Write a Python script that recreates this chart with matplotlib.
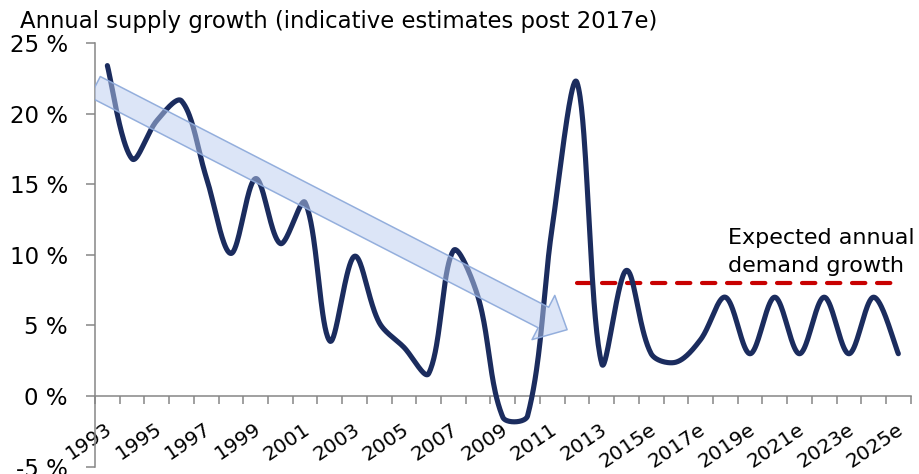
import numpy as np
import matplotlib
matplotlib.use("Agg")
import matplotlib.pyplot as plt
from matplotlib.patches import FancyArrowPatch
import matplotlib.transforms as mtransforms

# ---- data -------------------------------------------------------------
years = [str(y) for y in range(1993, 2015)] + [f"{y}e" for y in range(2015, 2026)]
supply_growth = [23.4, 16.8, 19.5, 20.9, 15.5, 10.1, 15.4, 10.8, 13.7, 3.9,
                 9.9, 5.2, 3.45, 1.6, 10.3, 7.0, -1.5, -1.4, 12.0, 22.2,
                 2.3, 8.9, 3.0, 2.4, 4.0, 7.0, 3.0, 7.0, 3.0, 7.0, 3.0, 7.0, 3.0]
demand_years = years[years.index("2012"):]
demand_growth = [8.0] * len(demand_years)

y_ticks = [-5, 0, 5, 10, 15, 20, 25]
y_tick_labels = [f"{v} %" for v in y_ticks]

# trend arrow, in (category index, %) coordinates
trend_start = (-0.5, 21.9)
trend_end = (18.6, 4.7)

title = "Annual supply growth (indicative estimates post 2017e)"
demand_note = ["Expected annual", "demand growth"]

NAVY = "#1b2c5e"
RED = "#c80000"
GREY = "#868686"

# ---- figure -----------------------------------------------------------
W, H, DPI = 919, 474, 100
fig = plt.figure(figsize=(W / DPI, H / DPI), dpi=DPI)
ax = fig.add_axes([95 / W, 1 - 466.7 / H, (910.7 - 95) / W, (466.7 - 43) / H])

n = len(years)
x = np.arange(n)
ax.set_xlim(-0.5, n - 0.5)
ax.set_ylim(-5, 25)


def smooth_curve(xs, ys, samples=40):
    """Bezier smoothing in screen space, tangents scaled by segment lengths."""
    pts = ax.transData.transform(np.column_stack([xs, ys]))
    out = []
    m = len(pts)
    for i in range(m - 1):
        p0, p1 = pts[i], pts[i + 1]
        prev = pts[i - 1] if i > 0 else p0
        nxt = pts[i + 2] if i + 2 < m else p1
        d = np.hypot(*(p1 - p0))
        d_prev = np.hypot(*(p0 - prev))
        d_next = np.hypot(*(nxt - p1))
        f0 = d / (d_prev + d) if d_prev > 0 else 0.5
        f1 = d / (d + d_next) if d_next > 0 else 0.5
        c1 = p0 + (p1 - prev) * f0 / 3
        c2 = p1 - (nxt - p0) * f1 / 3
        t = np.linspace(0, 1, samples)[:, None]
        seg = ((1 - t) ** 3 * p0 + 3 * (1 - t) ** 2 * t * c1
               + 3 * (1 - t) * t ** 2 * c2 + t ** 3 * p1)
        out.append(seg if i == 0 else seg[1:])
    return ax.transData.inverted().transform(np.vstack(out))


curve = smooth_curve(x, supply_growth)
ax.plot(curve[:, 0], curve[:, 1], color=NAVY, lw=3.7,
        solid_capstyle="round", solid_joinstyle="round", zorder=3)

dx = np.array([years.index(y) for y in demand_years])
ax.plot(dx, demand_growth, color=RED, lw=3.0, dash_capstyle="round",
        dashes=(3.2, 2.8), zorder=2)

arrow = FancyArrowPatch(
    posA=trend_start, posB=trend_end,
    arrowstyle="simple,head_length=19.2,head_width=35.8,tail_width=16.6",
    mutation_scale=1, shrinkA=0, shrinkB=0,
    facecolor=(0.73, 0.80, 0.94, 0.5), edgecolor=(0.56, 0.67, 0.86, 0.95),
    lw=1.1, zorder=4)
ax.add_patch(arrow)

# ---- axes styling -----------------------------------------------------
for side in ("top", "right"):
    ax.spines[side].set_visible(False)
for side in ("left", "bottom"):
    ax.spines[side].set_color(GREY)
    ax.spines[side].set_linewidth(1.1)
ax.spines["bottom"].set_position(("data", 0))

ax.set_yticks(y_ticks)
ax.set_yticklabels(y_tick_labels, fontsize=16.5)
ax.tick_params(axis="y", direction="out", length=6.5, width=1.1, color=GREY, pad=13)

ax.set_xticks(np.arange(-0.5, n, 1.0))
ax.set_xticklabels([])
ax.tick_params(axis="x", which="major", direction="out", length=5.5, width=1.1, color=GREY)
ax.set_xticks(x[::2], minor=True)
ax.set_xticklabels(years[::2], minor=True, fontsize=14.5, rotation=34,
                   ha="right", va="center", rotation_mode="anchor")
ax.tick_params(axis="x", which="minor", length=0, pad=22.5)
shift = mtransforms.ScaledTranslation(3 / DPI, 0, fig.dpi_scale_trans)
for lbl in ax.get_xticklabels(minor=True):
    lbl.set_transform(lbl.get_transform() + shift)

# ---- text -------------------------------------------------------------
fig.text(20 / W, 1 - 28.3 / H, title, ha="left", va="baseline", fontsize=16.4)
ax.text(25.1, 10.78, demand_note[0], ha="left", va="baseline", fontsize=16)
ax.text(25.1, 8.77, demand_note[1], ha="left", va="baseline", fontsize=16)

fig.savefig("out.png", dpi=DPI)
